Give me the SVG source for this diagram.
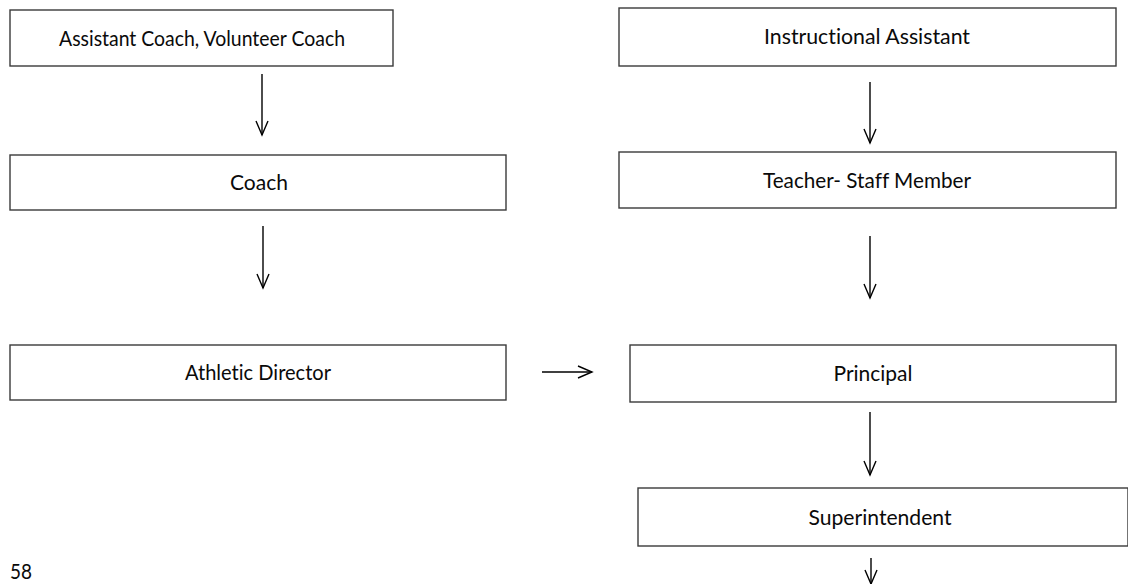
<svg xmlns="http://www.w3.org/2000/svg" width="1128" height="584" viewBox="0 0 1128 584">
  <style>
    .box { fill: #ffffff; stroke: #3a3a3a; stroke-width: 1.4; }
    .lbl { font-family: Lato, "Open Sans", sans-serif; font-size: 21px; fill: #0a0a0a; text-anchor: middle; font-variant-ligatures: none; font-feature-settings: "liga" 0, "dlig" 0; }
    .conn { stroke: #000000; stroke-width: 1.4; fill: none; }
    .head { stroke: #000000; stroke-width: 1.4; fill: none; }
  </style>
  <rect width="1128" height="584" fill="#ffffff"/>

  <g id="assistant-coach">
    <rect class="box" x="10" y="10" width="383" height="56"/>
    <text class="lbl" x="202" y="45.5" textLength="286" lengthAdjust="spacingAndGlyphs">Assistant Coach, Volunteer Coach</text>
  </g>
  <g id="coach">
    <rect class="box" x="10" y="155" width="496" height="55"/>
    <text class="lbl" x="259" y="189.5" textLength="58" lengthAdjust="spacingAndGlyphs">Coach</text>
  </g>
  <g id="athletic-director">
    <rect class="box" x="10" y="345" width="496" height="55"/>
    <text class="lbl" x="258" y="379.5" textLength="146" lengthAdjust="spacingAndGlyphs">Athletic Director</text>
  </g>
  <g id="instructional-assistant">
    <rect class="box" x="619" y="8" width="497" height="58"/>
    <text class="lbl" x="867" y="43.5" textLength="206" lengthAdjust="spacingAndGlyphs">Instructional Assistant</text>
  </g>
  <g id="teacher">
    <rect class="box" x="619" y="152" width="497" height="56"/>
    <text class="lbl" x="867" y="187.5" textLength="208" lengthAdjust="spacingAndGlyphs">Teacher- Staff Member</text>
  </g>
  <g id="principal">
    <rect class="box" x="630" y="345" width="486" height="57"/>
    <text class="lbl" x="873" y="380.5" textLength="79" lengthAdjust="spacingAndGlyphs">Principal</text>
  </g>
  <g id="superintendent">
    <rect class="box" x="638" y="488" width="490" height="58"/>
    <text class="lbl" x="880" y="524.5" textLength="143" lengthAdjust="spacingAndGlyphs">Superintendent</text>
  </g>

  <g id="connectors">
    <!-- left column -->
    <line class="conn" x1="262" y1="74" x2="262" y2="135"/>
    <polyline class="head" points="256,121 262,135 268,121"/>
    <line class="conn" x1="263" y1="226" x2="263" y2="288"/>
    <polyline class="head" points="257,274 263,288 269,274"/>
    <!-- across -->
    <line class="conn" x1="542" y1="372" x2="592" y2="372"/>
    <polyline class="head" points="578,366 592,372 578,378"/>
    <!-- right column -->
    <line class="conn" x1="870" y1="82" x2="870" y2="143"/>
    <polyline class="head" points="864,129 870,143 876,129"/>
    <line class="conn" x1="870" y1="236" x2="870" y2="298"/>
    <polyline class="head" points="864,284 870,298 876,284"/>
    <line class="conn" x1="870" y1="412" x2="870" y2="475"/>
    <polyline class="head" points="864,461 870,475 876,461"/>
    <line class="conn" x1="871" y1="558" x2="871" y2="584"/>
    <polyline class="head" points="865,570 871,584 877,570"/>
  </g>

  <text x="10" y="578.5" textLength="22" lengthAdjust="spacingAndGlyphs" style="font-family: Lato, 'Open Sans', sans-serif; font-size: 21px; fill: #0a0a0a;">58</text>
</svg>
